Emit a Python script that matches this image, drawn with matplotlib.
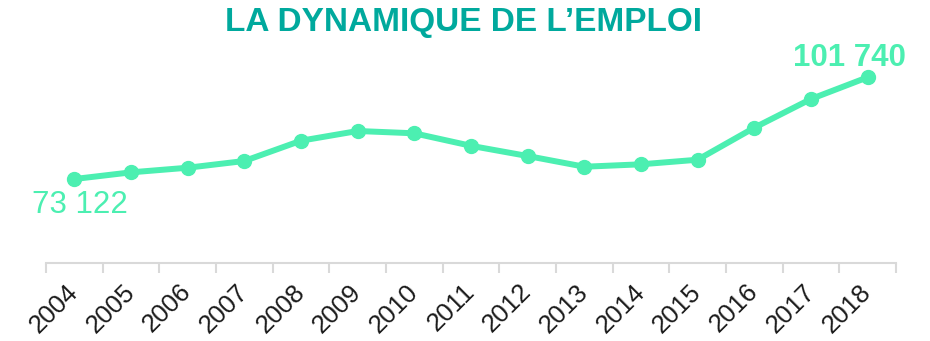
import matplotlib
matplotlib.use("Agg")
import matplotlib.pyplot as plt
from matplotlib.ticker import FixedLocator

plt.rcParams['font.family'] = ['Liberation Sans', 'DejaVu Sans']

years = [str(y) for y in range(2004, 2019)]
emploi = [73122, 75000, 76300, 78190, 83900, 86630, 85980, 82460,
          79590, 76580, 77260, 78550, 87560, 95630, 101740]

line_color = '#4cefb1'
title_color = '#00a99d'

fig = plt.figure(figsize=(9.3, 3.41), dpi=100)
ax = fig.add_axes([46 / 930, 1 - 263 / 341, 850 / 930, 203 / 341])

x = list(range(len(years)))
ax.plot(x, emploi, color=line_color, lw=4.3, marker='o', ms=10,
        solid_capstyle='round', zorder=3)

ax.set_xlim(-0.5, len(years) - 0.5)
ax.set_ylim(49500, 106600)

# first and last values
ax.annotate('73 122', (x[0], emploi[0]), xytext=(4, -19), textcoords='offset points',
            ha='center', va='center', fontsize=22.5, color=line_color)
ax.annotate('101 740', (x[-1], emploi[-1]), xytext=(-13, 14), textcoords='offset points',
            ha='center', va='center', fontsize=22.5, color=line_color, fontweight='bold')

# axis: labels at the category centres, ticks on the boundaries
ax.set_xticks(x)
ax.set_xticklabels(years, rotation=45, ha='right', va='center', rotation_mode='anchor',
                   fontsize=18.5, color='#1a1a1a')
ax.tick_params(axis='x', which='major', length=0, pad=18)
ax.xaxis.set_minor_locator(FixedLocator([i - 0.5 for i in range(len(years) + 1)]))
ax.tick_params(axis='x', which='minor', length=7, width=1.5, color='#d9d9d9')
ax.set_yticks([])
for s in ['top', 'right', 'left']:
    ax.spines[s].set_visible(False)
ax.spines['bottom'].set_color('#d9d9d9')
ax.spines['bottom'].set_linewidth(1.5)

fig.text(463 / 930, 1 - 23 / 341, 'LA DYNAMIQUE DE L’EMPLOI',
         ha='center', va='center', fontsize=24, fontweight='bold', color=title_color)

fig.savefig('out.png', dpi=100)
